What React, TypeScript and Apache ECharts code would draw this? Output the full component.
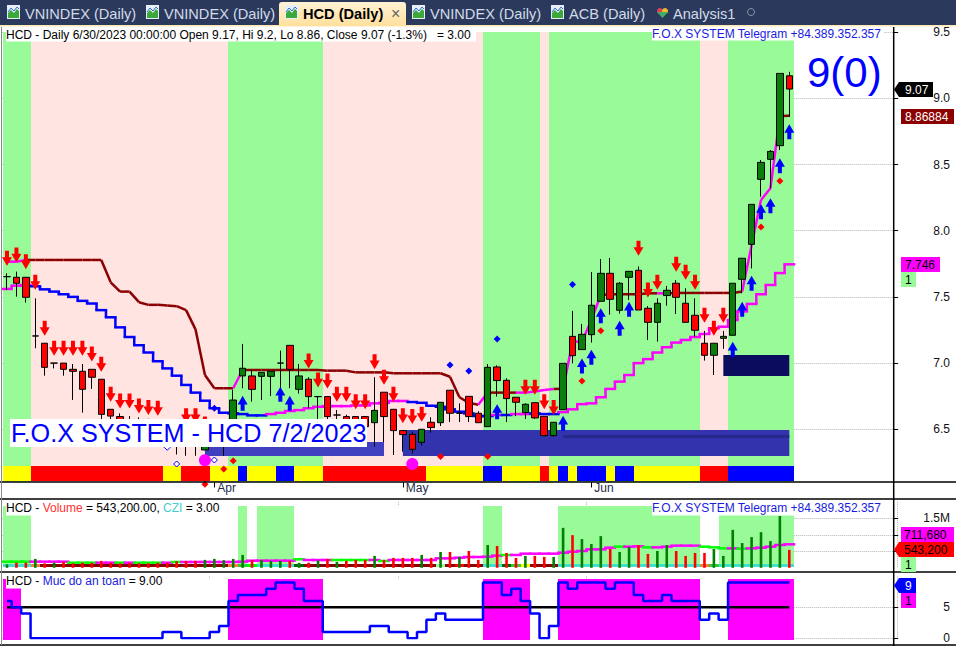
import React, { useEffect, useRef } from "react";
import * as echarts from "echarts";

const FONT = "'Liberation Sans', Arial, sans-serif";
const GREEN = "#98fb98", PINK = "#ffe4e1", WHITE = "#ffffff", MAG = "#ff00ff", DRED = "#8b0000", BLUE = "#0000ff", RED = "#ff0000", YEL = "#ffff00";
const TURQ = "#40e0d0", ORG = "#f5823c", LIME = "#00ff00", MID = "#32cd32", DGR = "#006400";

const BAND_COUNT = 95;
const tickIndex = [22, 42, 62];
const tickLabels = ["Apr", "May", "Jun"];
const categories = Array.from({ length: BAND_COUNT }, (_, i) => { const k = tickIndex.indexOf(i); return k >= 0 ? tickLabels[k] : String(i); });

const opens = [7.653,7.648,7.648,7.205,7.15,7.0,7.0,6.953,6.938,6.953,6.878,6.651,6.596,6.57,6.56,6.55,6.53,6.5,6.47,6.46,6.46,6.344,6.4,6.44,6.47,6.903,6.903,6.9,6.9,7.0,7.134,6.802,6.878,6.747,6.747,6.608,6.596,6.596,6.596,6.55,6.78,6.651,6.49,6.462,6.402,6.553,6.55,6.795,6.621,6.749,6.621,6.52,6.971,6.87,6.742,6.626,6.701,6.598,6.452,6.648,7.202,7.102,7.215,7.467,7.678,7.399,7.648,7.701,7.414,7.308,7.51,7.603,7.452,7.361,7.15,7.059,7.187,7.21,7.633,7.897,8.388,8.539,8.642,9.17];
const closes = [7.653,7.603,7.497,7.205,6.968,7.0,6.953,6.938,6.802,6.893,6.613,6.6,6.5,6.5,6.5,6.48,6.46,6.44,6.42,6.41,6.4,6.44,6.47,6.5,6.721,6.961,6.802,6.93,6.938,7.0,6.953,6.903,6.747,6.747,6.596,6.608,6.495,6.48,6.52,6.643,6.596,6.49,6.46,6.349,6.5,6.513,6.704,6.621,6.621,6.596,6.55,6.968,6.868,6.732,6.704,6.689,6.586,6.452,6.553,6.998,7.056,7.217,7.437,7.678,7.482,7.603,7.693,7.401,7.308,7.452,7.55,7.497,7.308,7.248,7.059,7.15,7.202,7.603,7.792,8.199,8.516,8.599,9.188,9.07];
const highs = [7.678,7.691,7.648,7.489,7.15,7.0,7.0,6.993,6.993,6.953,6.878,6.651,6.62,6.6,6.59,6.58,6.56,6.52,6.49,6.48,6.49,6.47,6.5,6.53,6.797,7.145,6.948,6.93,6.938,7.094,7.134,6.993,6.893,6.747,6.75,6.646,6.61,6.596,6.596,6.893,6.78,6.651,6.49,6.482,6.5,6.591,6.704,6.795,6.696,6.749,6.636,6.993,6.983,6.885,6.742,6.696,6.701,6.598,6.553,6.998,7.394,7.296,7.688,7.786,7.794,7.613,7.693,7.73,7.431,7.489,7.583,7.628,7.565,7.489,7.243,7.15,7.243,7.603,7.792,8.199,8.534,8.609,9.188,9.2];
const lows = [7.552,7.502,7.457,7.112,6.905,6.96,6.905,6.722,6.626,6.805,6.55,6.55,6.45,6.45,6.47,6.46,6.44,6.41,6.31,6.3,6.3,6.344,6.38,6.3,6.45,6.81,6.709,6.721,6.752,6.81,6.81,6.77,6.659,6.57,6.55,6.55,6.45,6.45,6.46,6.369,6.404,6.306,6.331,6.319,6.377,6.475,6.525,6.555,6.555,6.555,6.55,6.52,6.747,6.555,6.6,6.578,6.578,6.452,6.445,6.648,6.998,7.1,7.155,7.467,7.366,7.374,7.477,7.401,7.175,7.162,7.434,7.371,7.308,7.2,7.019,6.91,7.107,7.21,7.527,7.715,8.257,8.32,8.609,8.86];

const upperStop = [7.766,7.766,7.779,7.779,7.779,7.779,7.779,7.779,7.779,7.779,7.779,7.61,7.54,7.54,7.46,7.44,7.44,7.435,7.43,7.4,7.255,6.91,6.81,6.81,6.81,6.948,6.948,6.948,6.948,6.948,6.948,6.948,6.948,6.948,6.943,6.943,6.943,6.93,6.93,6.93,6.93,6.923,6.923,6.923,6.923,6.923,6.923,6.897,6.742,6.7,6.686,6.777,6.777,6.777,6.777,6.777,6.785,6.797,6.805,6.805,7.162,7.162,7.325,7.515,7.52,7.52,7.52,7.52,7.527,7.527,7.527,7.53,7.53,7.53,7.53,7.53,7.53,7.53,7.54,7.89,8.232,8.32,8.866,8.869];
const upperRuns: [number, number, string][] = [[0,1,MAG],[2,23,DRED],[24,24,MAG],[25,49,DRED],[50,50,MAG],[51,53,DRED],[54,57,MAG],[58,58,DRED],[59,62,MAG],[63,68,DRED],[69,69,MAG],[70,77,DRED],[78,81,MAG],[82,82,DRED]];

const lowerStop = [7.56,7.585,7.59,7.58,7.557,7.54,7.52,7.5,7.47,7.45,7.4,7.346,7.27,7.197,7.135,7.08,7.014,6.96,6.905,6.835,6.777,6.716,6.659,6.625,6.62,6.615,6.605,6.605,6.615,6.625,6.638,6.645,6.659,6.67,6.675,6.675,6.675,6.68,6.68,6.696,6.7,6.714,6.714,6.706,6.7,6.678,6.67,6.651,6.633,6.62,6.6,6.6,6.608,6.608,6.615,6.615,6.62,6.615,6.615,6.63,6.651,6.69,6.696,6.742,6.805,6.86,6.91,7.0,7.03,7.08,7.12,7.155,7.175,7.197,7.22,7.263,7.275,7.325,7.39,7.447,7.52,7.59,7.68,7.746];
const lowerRuns: [number, number, string][] = [[0,2,MAG],[3,27,BLUE],[28,42,MAG],[43,51,BLUE],[52,52,MAG],[53,53,BLUE],[54,55,MAG],[56,58,BLUE],[59,83,MAG]];

const sellArrows: [number, number][] = [[0,7.791],[1,7.817],[2,7.766],[3,7.61],[4,7.263],[5,7.112],[6,7.112],[7,7.112],[8,7.112],[9,7.069],[10,6.991],[11,6.764],[12,6.714],[13,6.714],[14,6.676],[15,6.664],[16,6.659],[19,6.603],[20,6.603],[21,6.54],[32,7.016],[33,6.873],[34,6.865],[35,6.764],[36,6.764],[37,6.709],[38,6.709],[39,7.011],[40,6.893],[41,6.764],[42,6.603],[43,6.596],[44,6.613],[55,6.817],[56,6.817],[57,6.709],[58,6.664],[67,7.867],[68,7.552],[69,7.61],[71,7.746],[72,7.686],[73,7.61],[74,7.361],[75,7.263],[76,7.361]];
const buyArrows: [number, number][] = [[25,6.696],[29,6.764],[30,6.696],[52,6.633],[59,6.545],[61,6.978],[62,7.044],[63,7.358],[65,7.263],[66,7.406],[77,7.104],[78,7.406],[79,7.603],[80,8.143],[81,8.189],[82,8.491],[83,8.748]];
const redDiamonds: [number, number][] = [[21,6.085],[23,6.2],[24,6.263],[46,6.294],[51,6.294],[61,6.865],[63,7.245],[80,8.028],[82,8.375]];
const blueDiamonds: [number, number][] = [[22,6.659],[47,6.986],[49,6.941],[52,7.182],[60,7.593]];
const hollowDiamonds: [number, number][] = [[17,6.364],[18,6.238],[22,6.268]];
const pinkDots: [number, number][] = [[21,6.266],[43,6.238]];

// zones: first index, last index, low price, high price, colour
const zones: [number, number, number, number, string][] = [
  [21,40,6.298,6.404,"#3f3fbf"],
  [42,83,6.298,6.495,"#3333ad"],
  [59,83,6.435,6.457,"#27278c"],
  [76,83,6.902,7.061,"#0c0c5e"],
];

const mainBack: [number, number, string][] = [[0,2,GREEN],[3,23,PINK],[24,33,GREEN],[34,50,PINK],[51,56,GREEN],[57,57,PINK],[58,73,GREEN],[74,76,PINK],[77,83,GREEN]];
const ribbon: [number, number, string][] = [[0,2,YEL],[3,16,RED],[17,18,YEL],[19,21,RED],[22,24,YEL],[25,25,BLUE],[26,28,YEL],[29,30,BLUE],[31,33,YEL],[34,44,RED],[45,50,YEL],[51,52,BLUE],[53,56,YEL],[57,57,RED],[58,58,YEL],[59,59,BLUE],[60,60,YEL],[61,63,BLUE],[64,64,YEL],[65,66,BLUE],[67,73,YEL],[74,76,RED],[77,83,BLUE]];
const volBack: [number, number, string][] = [[0,2,GREEN],[3,24,WHITE],[25,25,GREEN],[26,26,WHITE],[27,30,GREEN],[31,50,WHITE],[51,52,GREEN],[53,58,WHITE],[59,73,GREEN],[74,75,WHITE],[76,83,GREEN]];
const volStrip: [number, number, string][] = [[0,2,TURQ],[3,3,ORG],[4,23,DRED],[24,24,ORG],[25,25,MID],[26,26,LIME],[27,30,TURQ],[31,31,DGR],[32,45,DRED],[46,46,GREEN],[47,47,DRED],[48,48,RED],[49,50,DRED],[51,52,TURQ],[53,53,DGR],[54,54,MID],[55,55,YEL],[56,58,DRED],[59,73,TURQ],[74,74,ORG],[75,75,MID],[76,83,TURQ]];
const safeBack: [number, number, string][] = [[0,1,MAG],[2,23,WHITE],[24,33,MAG],[34,50,WHITE],[51,55,MAG],[56,58,WHITE],[59,73,MAG],[74,76,WHITE],[77,83,MAG]];

const volumeM = [.105,.155,.155,.27,.135,.155,.18,.135,.155,.155,.21,.155,.135,.155,.135,.135,.155,.15,.195,.21,.21,.24,.27,.23,.27,.39,.23,.24,.21,.21,.21,.15,.155,.22,.27,.18,.21,.24,.24,.36,.24,.3,.3,.3,.39,.3,.48,.48,.33,.51,.24,.69,.66,.45,.3,.36,.36,.33,.33,1.21,.99,.87,.72,.96,.57,.48,.63,.69,.42,.51,.69,.51,.36,.45,.45,.57,.36,1.15,.75,.93,1.08,.81,1.57,.5432];
const volumeMA = [.186,.186,.186,.186,.186,.186,.186,.155,.155,.155,.155,.155,.155,.155,.155,.155,.155,.155,.176,.176,.176,.176,.176,.176,.176,.186,.216,.216,.216,.216,.216,.257,.236,.236,.236,.236,.236,.236,.236,.236,.206,.236,.236,.236,.236,.236,.287,.287,.307,.327,.327,.337,.368,.388,.388,.428,.428,.428,.428,.458,.488,.509,.559,.559,.61,.64,.64,.65,.62,.62,.64,.671,.671,.671,.64,.62,.589,.589,.579,.589,.61,.64,.691,.7117];
const volumeMARuns: [number, number, string][] = [[0,2,LIME],[3,6,MAG],[7,9,LIME],[10,11,MAG],[12,12,LIME],[13,13,MAG],[14,16,LIME],[17,17,MAG],[18,18,LIME],[19,34,MAG],[31,31,LIME],[35,38,LIME],[39,39,MAG],[40,40,LIME],[41,52,MAG],[53,53,LIME],[54,64,MAG],[65,65,LIME],[66,67,MAG],[68,68,LIME],[69,73,MAG],[74,76,LIME],[77,77,MAG],[78,78,LIME],[79,83,MAG]];

const safety = [6,5,4,0,0,0,0,0,0,0,0,0,0,0,0,0,0,1,1,0,0,0,1,2,6,7,7,7,8,9,9,8,6,6,1,1,1,1,1,2,2,1,1,0,1,3,4,3,3,3,3,9,9,7,8,6,4,0,2,9,8,9,9,9,8,9,9,7,6,6,7,6,6,6,3,4,3,9,9,9,9,9,9,9];
const safetyLevel = Array.from({ length: 84 }, () => 5);

const colorOf = (runs: [number, number, string][], i: number) => { let c = runs[0][2]; for (const r of runs) if (i >= r[0] && i <= r[1]) c = r[2]; return c; };

const bandSeries = (runs: [number, number, string][], top: number, bottom: number, axis: number) => ({
  type: "custom", xAxisIndex: axis, yAxisIndex: axis, clip: false, silent: true,
  data: runs.map((r) => [r[0], 0]),
  renderItem: (p: any, api: any) => {
    const r = runs[p.dataIndex];
    const w = api.size([1, 0])[0];
    const y0 = api.value(1);
    const a = Math.max(3, Math.round(api.coord([r[0], y0])[0] - w / 2));
    const b = Math.round(api.coord([r[1], y0])[0] + w / 2);
    return { type: "rect", shape: { x: a, y: top, width: b - a, height: bottom - top }, style: { fill: r[2] } };
  },
});

const slopeSeries = (vals: number[], runs: [number, number, string][], width: number) => ({
  type: "custom", xAxisIndex: 0, yAxisIndex: 0, clip: false, silent: true,
  data: vals.slice(0, -1).map((v, i) => [i, v, vals[i + 1]]),
  renderItem: (p: any, api: any) => {
    const i = api.value(0);
    const a = api.coord([i, api.value(1)]);
    const b = api.coord([i + 1, api.value(2)]);
    return { type: "line", shape: { x1: a[0], y1: a[1], x2: b[0], y2: b[1] }, style: { stroke: colorOf(runs, i), lineWidth: width } };
  },
});

const stairSeries = (vals: number[], runs: [number, number, string][], width: number, axis: number) => ({
  type: "custom", xAxisIndex: axis, yAxisIndex: axis, clip: false, silent: true,
  data: vals.map((v, i) => [i, v, i + 1 < vals.length ? vals[i + 1] : v]),
  renderItem: (p: any, api: any) => {
    const i = api.value(0);
    const w = api.size([1, 0])[0];
    const a = api.coord([i, api.value(1)]);
    const b = api.coord([i, api.value(2)]);
    const stroke = colorOf(runs, i);
    const x1 = a[0] - w / 2, x2 = a[0] + w / 2;
    return {
      type: "group",
      children: [
        { type: "line", shape: { x1, y1: a[1], x2, y2: a[1] }, style: { stroke, lineWidth: width, lineCap: "square" } },
        { type: "line", shape: { x1: x2, y1: a[1], x2, y2: b[1] }, style: { stroke, lineWidth: width } },
      ],
    };
  },
});

const zoneSeries = {
  type: "custom", xAxisIndex: 0, yAxisIndex: 0, clip: false, silent: true,
  data: zones.map((z) => [z[0], z[2], z[1], z[3]]),
  renderItem: (p: any, api: any) => {
    const a = api.coord([api.value(0), api.value(3)]);
    const b = api.coord([api.value(2), api.value(1)]);
    return { type: "rect", shape: { x: a[0], y: a[1], width: b[0] - a[0], height: b[1] - a[1] }, style: { fill: zones[p.dataIndex][4] } };
  },
};

const DOWN = "path://M3 0H7V6H10L5 14L0 6H3Z";
const UP = "path://M5 0L10 8H7V14H3V8H0Z";
const scatter = (data: [number, number][], symbol: string, size: any, color: string, extra: any = {}) => ({
  type: "scatter", xAxisIndex: 0, yAxisIndex: 0, clip: false, silent: true, symbol, symbolSize: size, data, itemStyle: { color, opacity: 1, ...extra },
});

const txt = (x: number, y: number, text: string, fill: string, size = 12, extra: any = {}) => ({
  type: "text", x, y, z: 60, silent: true,
  style: { text, fill, fontSize: size, fontFamily: FONT, verticalAlign: "middle", align: "left", ...extra },
});
const box = (x: number, y: number, w: number, h: number, fill: string, z = 59, extra: any = {}) => ({
  type: "rect", z, silent: true, shape: { x, y, width: w, height: h }, style: { fill, ...extra },
});
const hline = (x1: number, y1: number, x2: number, y2: number, stroke = "#000", width = 1.5) => ({
  type: "line", z: 55, silent: true, shape: { x1, y1, x2, y2 }, style: { stroke, lineWidth: width },
});
const tag = (x: number, y: number, w: number, h: number, fill: string, text: string, color: string, pointer: boolean, tx?: number) => {
  const out: any[] = [box(x, y, w, h, fill)];
  if (pointer) out.push({ type: "polygon", z: 59, silent: true, shape: { points: [[x, y], [x, y + h], [x - 5, y + h / 2]] }, style: { fill } });
  out.push(txt(tx ?? x + 3, y + h / 2, text, color));
  return out;
};
const tabIcon = (x: number) => [
  box(x, 5, 13, 14, "#e8eef8", 56),
  { type: "polygon", z: 57, silent: true, shape: { points: [[x + 1, 18], [x + 1, 13], [x + 4, 10], [x + 7, 13], [x + 10, 9], [x + 12, 11], [x + 12, 18]] }, style: { fill: "#3aa83a" } },
  { type: "polyline", z: 58, silent: true, shape: { points: [[x + 1, 12], [x + 4, 8], [x + 7, 11], [x + 10, 7], [x + 12, 9]] }, style: { stroke: "#2a6fd0", lineWidth: 1, fill: "none" } },
];

const TAB = "#2b3a5c", TABTXT = "#d3dbe9";
const graphics: any[] = [
  box(0, 0, 956, 25, TAB, 54),
  box(0, 25, 956, 1.5, "#ffe8b4", 54),
  { type: "rect", z: 55, silent: true, shape: { x: 279, y: 2, width: 127, height: 24, r: [3, 3, 0, 0] },
    style: { fill: new echarts.graphic.LinearGradient(0, 0, 0, 1, [{ offset: 0, color: "#fff3d6" }, { offset: 1, color: "#ffdf9c" }]) } },
  ...tabIcon(7), ...tabIcon(146), ...tabIcon(285), ...tabIcon(412), ...tabIcon(551),
  txt(25, 14, "VNINDEX (Daily)", TABTXT, 14.6),
  txt(164, 14, "VNINDEX (Daily)", TABTXT, 14.6),
  txt(303, 14, "HCD (Daily)", "#000", 14.6, { fontWeight: "bold" }),
  txt(391, 13, "\u00d7", "#666", 16),
  txt(430, 14, "VNINDEX (Daily)", TABTXT, 14.6),
  txt(569, 14, "ACB (Daily)", TABTXT, 14.6),
  { type: "circle", z: 58, silent: true, shape: { cx: 660, cy: 11, r: 3 }, style: { fill: "#e0405a" } },
  { type: "circle", z: 58, silent: true, shape: { cx: 665, cy: 11, r: 3 }, style: { fill: "#e8c030" } },
  { type: "polygon", z: 58, silent: true, shape: { points: [[657, 12], [668, 12], [662.5, 18]] }, style: { fill: "#40b060" } },
  txt(673, 14, "Analysis1", TABTXT, 14.6),
  { type: "circle", z: 58, silent: true, shape: { cx: 751, cy: 12, r: 3.5 }, style: { stroke: "#8a94aa", fill: "none", lineWidth: 1 } },

  hline(0, 482, 956, 482), hline(0, 499, 956, 499), hline(0, 572, 956, 572), hline(0, 645, 956, 645),
  hline(893.7, 27, 893.7, 646),
  hline(1.5, 27, 1.5, 645, "#888", 1),

  box(6, 28, 470, 13.5, WHITE),
  txt(6, 35, "HCD - Daily 6/30/2023 00:00:00 Open 9.17, Hi 9.2, Lo 8.86, Close 9.07 (-1.3%)   = 3.00", "#000"),
  box(652, 27, 232, 13.5, WHITE),
  txt(652, 34, "F.O.X SYSTEM Telegram +84.389.352.357", "#1a1ae0"),
  txt(807, 72, "9(0)", BLUE, 42),

  box(10, 419, 357, 28, WHITE),
  txt(11, 433, "F.O.X SYSTEM - HCD 7/2/2023", BLUE, 25.2),

  box(6, 501, 216, 14.5, WHITE),
  { type: "text", x: 6, y: 508, z: 60, silent: true, style: {
      text: "{a|HCD - }{r|Volume}{a| = 543,200.00, }{c|CZI}{a| = 3.00}",
      fontFamily: FONT, fontSize: 12, verticalAlign: "middle",
      rich: { a: { fill: "#000", fontSize: 12, fontFamily: FONT }, r: { fill: "#ff3030", fontSize: 12, fontFamily: FONT }, c: { fill: "#40d0d0", fontSize: 12, fontFamily: FONT } } } },
  box(652, 501, 232, 14.5, WHITE),
  txt(652, 508, "F.O.X SYSTEM Telegram +84.389.352.357", "#1a1ae0"),

  box(6, 574, 158, 14.5, WHITE),
  { type: "text", x: 6, y: 581, z: 60, silent: true, style: {
      text: "{a|HCD - }{b|Muc do an toan}{a| = 9.00}",
      fontFamily: FONT, fontSize: 12, verticalAlign: "middle",
      rich: { a: { fill: "#000", fontSize: 12, fontFamily: FONT }, b: { fill: "#2020e0", fontSize: 12, fontFamily: FONT } } } },

  ...tag(899, 82, 34, 15, "#000000", "9.07", "#ffffff", true, 905),
  ...tag(901, 109, 53, 15, DRED, "8.86884", "#ffffff", false, 905),
  ...tag(901, 257, 39, 15, MAG, "7.746", "#000000", false, 905),
  ...tag(901, 272, 15, 15, GREEN, "1", "#000000", false, 905),
  ...tag(901, 527, 53, 15, MAG, "711,680", "#000000", false),
  ...tag(899, 542, 55, 15, RED, "543,200", "#000000", true, 904),
  ...tag(901, 557, 15, 15, GREEN, "1", "#000000", false, 905),
  ...tag(899, 578, 17, 15, BLUE, "9", "#ffffff", true, 905),
  ...tag(901, 593, 15, 15, MAG, "1", "#000000", false, 905),
];

const dotted = { show: true, lineStyle: { type: "dotted", color: "#b4b4b4", width: 1 } };
const gridBox = (top: number, height: number) => ({ left: 2.29, width: 895.4, top, height, containLabel: false, show: false });
const xBase = {
  type: "category", data: categories, boundaryGap: true,
  axisLine: { show: false },
};
const isTick = (index: number) => tickIndex.indexOf(index) >= 0;
const yBase = (min: number, max: number, ticks: number[], labels: number[], formatter: any) => ({
  type: "value", position: "right", offset: -4, min, max, scale: false,
  axisLine: { show: false },
  axisTick: { show: true, length: 4.5, customValues: ticks, lineStyle: { color: "#000", width: 1 } },
  axisLabel: { show: true, customValues: labels, margin: 56.3, align: "right", color: "#111", fontSize: 12, fontFamily: FONT, formatter },
  splitLine: dotted,
});

const option: any = {
  animation: false,
  backgroundColor: "#ffffff",
  tooltip: { show: false },
  grid: [gridBox(32.1, 463.4), gridBox(501.8, 66), gridBox(576.3, 62)],
  xAxis: [
    { ...xBase, gridIndex: 0, position: "bottom", offset: -13.5,
      axisTick: { show: true, length: 5.5, alignWithLabel: true, interval: (i: number) => isTick(i), lineStyle: { color: "#000" } },
      axisLabel: { show: true, interval: (i: number) => isTick(i), align: "left", padding: [0, 0, 0, 3], margin: 0, color: "#1c2b4a", fontSize: 12, fontFamily: FONT },
      splitLine: { show: false } },
    { ...xBase, gridIndex: 1, axisTick: { show: false }, axisLabel: { show: false },
      splitLine: { show: true, interval: (i: number) => isTick(i), lineStyle: { type: "dotted", color: "#b4b4b4" } } },
    { ...xBase, gridIndex: 2, axisTick: { show: false }, axisLabel: { show: false },
      splitLine: { show: true, interval: (i: number) => isTick(i), lineStyle: { type: "dotted", color: "#b4b4b4" } } },
  ],
  yAxis: [
    { ...yBase(6, 9.5, [6.5, 7, 7.5, 8, 8.5, 9, 9.5], [6.5, 7, 7.5, 8, 8.5, 9, 9.5], (v: number) => v.toFixed(1)), gridIndex: 0 },
    { ...yBase(0, 2, [0.5, 1, 1.5], [1.5], (v: number) => v + "M"), gridIndex: 1 },
    { ...yBase(0, 10, [0, 5], [0, 5], (v: number) => String(v)), gridIndex: 2 },
  ],
  series: [
    bandSeries(mainBack, 32, 482, 0),
    bandSeries(ribbon, 466, 481, 0),
    zoneSeries,
    slopeSeries(upperStop, upperRuns, 2.5),
    stairSeries(lowerStop, lowerRuns, 2.5, 0),
    {
      type: "candlestick", xAxisIndex: 0, yAxisIndex: 0, silent: true, barWidth: 7, clip: false,
      data: opens.map((o, i) => [o, closes[i], lows[i], highs[i]]),
      itemStyle: { color: "#0a7d0a", color0: "#ff0000", borderColor: "#000", borderColor0: "#000", borderColorDoji: "#000", borderWidth: 1 },
    },
    scatter(sellArrows, DOWN, [10, 15], "#ff0000"),
    scatter(buyArrows, UP, [10, 15], "#0000ff"),
    scatter(redDiamonds, "diamond", 7, "#ff0000"),
    scatter(blueDiamonds, "diamond", 7, "#0000ff"),
    scatter(hollowDiamonds, "diamond", 6, "#ffffff", { borderColor: "#0000ff", borderWidth: 1 }),
    scatter(pinkDots, "circle", 12, MAG),

    bandSeries(volBack, 506, 567, 1),
    bandSeries(volStrip, 564, 567, 1),
    stairSeries(volumeMA, volumeMARuns, 2.5, 1),
    {
      type: "bar", xAxisIndex: 1, yAxisIndex: 1, silent: true, barWidth: 2.6,
      data: volumeM.map((v, i) => ({ value: v, itemStyle: { color: closes[i] >= opens[i] ? "#008000" : "#ff0000" } })),
    },

    bandSeries(safeBack, 579, 640, 2),
    { type: "line", xAxisIndex: 2, yAxisIndex: 2, silent: true, data: safetyLevel, showSymbol: false, symbol: "none", lineStyle: { color: "#000", width: 2.5 } },
    { type: "line", xAxisIndex: 2, yAxisIndex: 2, silent: true, data: safety, step: "middle", showSymbol: false, symbol: "none", lineStyle: { color: BLUE, width: 2.5 } },
  ],
  graphic: { elements: graphics },
};

export default function App() {
  const ref = useRef<HTMLDivElement | null>(null);
  useEffect(() => {
    document.body.style.margin = "0";
    document.body.style.background = "#fff";
    const chart = echarts.init(ref.current as HTMLDivElement, undefined, { renderer: "svg" });
    chart.setOption(option);
    return () => chart.dispose();
  }, []);
  return <div ref={ref} style={{ position: "absolute", left: 0, top: 0, width: 956, height: 646 }} />;
}
